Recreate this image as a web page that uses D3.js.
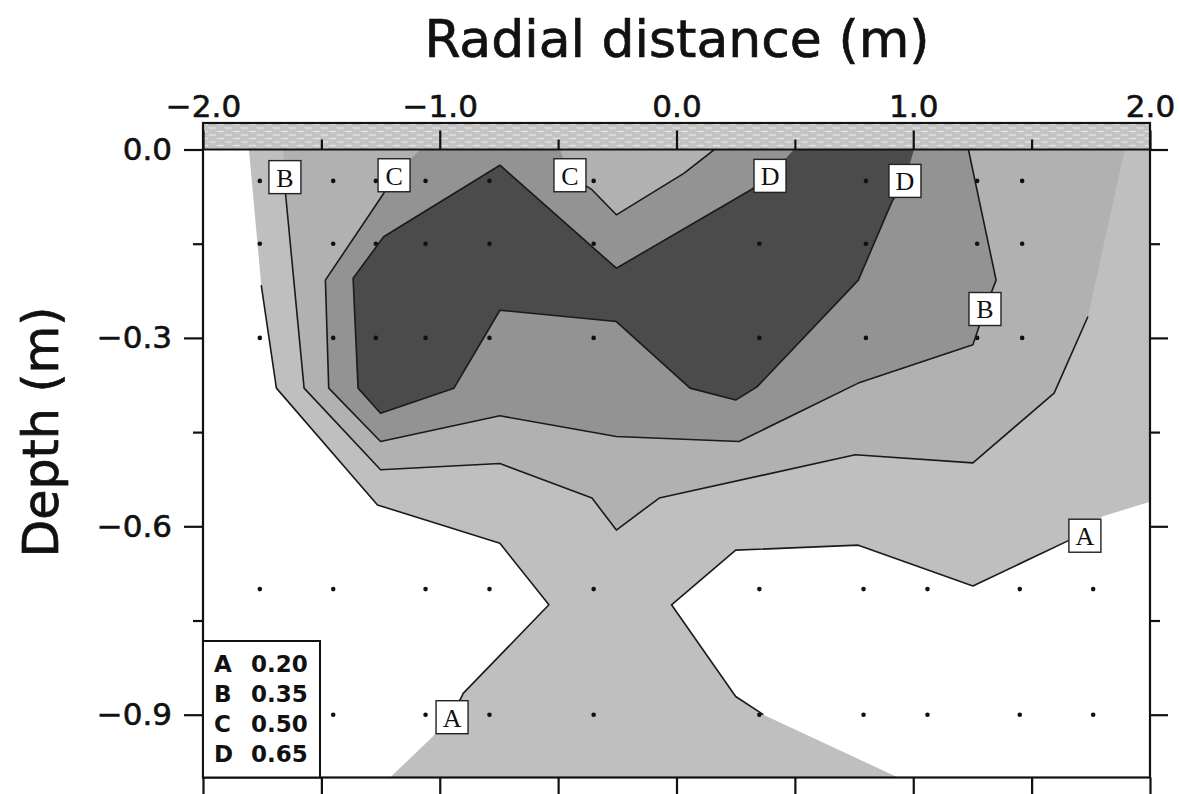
<!DOCTYPE html>
<html>
<head>
<meta charset="utf-8">
<script src="https://cdn.jsdelivr.net/npm/d3@7"></script>
<style>
  body { margin: 0; background: #fff; }
  svg text { font-family: "DejaVu Sans", sans-serif; fill: #111; }
</style>
</head>
<body>
<div id="chart"></div>
<script>
// axis ticks
const xTicks = [-2.0, -1.0, 0.0, 1.0, 2.0];
const xMinorTicks = [-1.5, -0.5, 0.5, 1.5];
const yTicks = [0.0, -0.3, -0.6, -0.9];
const yMinorTicks = [-0.15, -0.45, -0.75];

// contour levels
const levelNames = ['A', 'B', 'C', 'D'];
const levelValues = [0.20, 0.35, 0.50, 0.65];

// measurement points [radial distance, depth]
const upperRowX = [-1.76, -1.45, -1.27, -1.06, -0.79, -0.35, 0.35, 0.80, 1.27, 1.46];
const upperRowDepths = [-0.05, -0.15, -0.30];
const lowerRowX = [-1.76, -1.45, -1.06, -0.79, -0.35, 0.35, 0.79, 1.06, 1.45, 1.76];
const lowerRowDepths = [-0.70, -0.90];

// shaded bands (value >= level), [radial distance, depth]
const fillA = [[-1.806, 0], [2.0, 0], [2.0, -0.561], [1.801, -0.584], [1.660, -0.622], [1.252, -0.695],
  [0.768, -0.630], [0.250, -0.638], [-0.021, -0.725], [0.250, -0.871], [0.367, -0.900], [0.936, -1.0],
  [-1.210, -1.0], [-1.030, -0.935], [-0.901, -0.866], [-0.539, -0.725], [-0.746, -0.627],
  [-1.263, -0.566], [-1.690, -0.380], [-1.754, -0.216]];
const fillB = [[-1.662, 0], [-1.651, -0.072], [-1.573, -0.380], [-1.250, -0.510], [-0.746, -0.500],
  [-0.357, -0.555], [-0.254, -0.606], [-0.073, -0.555], [0.755, -0.486], [1.252, -0.499],
  [1.595, -0.388], [1.738, -0.266], [1.893, 0]];
const fillC = [[-1.083, 0], [-1.193, -0.042], [-1.237, -0.070], [-1.483, -0.208], [-1.469, -0.380],
  [-1.250, -0.465], [-0.746, -0.424], [-0.254, -0.457], [0.264, -0.465], [0.768, -0.372],
  [1.252, -0.311], [1.303, -0.254], [1.350, -0.208], [1.233, 0], [0.160, 0], [0.031, -0.038],
  [-0.254, -0.104], [-0.357, -0.064], [-0.450, -0.042], [-0.492, 0]];
const fillD = [[0.496, 0], [0.395, -0.042], [0.315, -0.064], [-0.254, -0.189], [-0.746, -0.025],
  [-1.237, -0.139], [-1.366, -0.205], [-1.345, -0.380], [-1.250, -0.420], [-0.940, -0.380],
  [-0.746, -0.256], [-0.254, -0.274], [0.057, -0.380], [0.250, -0.399], [0.340, -0.378],
  [0.768, -0.208], [0.910, -0.083], [0.965, -0.050], [1.003, 0]];

// drawn contour lines
const lineA1 = [[-1.754, -0.216], [-1.690, -0.380], [-1.263, -0.566], [-0.746, -0.627], [-0.539, -0.725],
  [-0.901, -0.866], [-0.948, -0.904]];
const lineA2 = [[0.367, -0.900], [0.250, -0.871], [-0.021, -0.725], [0.250, -0.638], [0.768, -0.630],
  [1.252, -0.695], [1.660, -0.622], [1.725, -0.615]];
const lineB = [[-1.654, -0.044], [-1.651, -0.072], [-1.573, -0.380], [-1.250, -0.510], [-0.746, -0.500],
  [-0.357, -0.555], [-0.254, -0.606], [-0.073, -0.555], [0.755, -0.486], [1.252, -0.499],
  [1.595, -0.388], [1.738, -0.266]];
const lineC1 = [[-1.193, -0.042], [-1.237, -0.070], [-1.483, -0.208], [-1.469, -0.380], [-1.250, -0.465],
  [-0.746, -0.424], [-0.254, -0.457], [0.264, -0.465], [0.768, -0.372], [1.252, -0.311],
  [1.303, -0.254], [1.350, -0.208], [1.233, 0]];
const lineC2 = [[-0.450, -0.042], [-0.357, -0.064], [-0.254, -0.104], [0.031, -0.038], [0.160, 0]];
const lineD = [[0.395, -0.042], [0.315, -0.064], [-0.254, -0.189], [-0.746, -0.025], [-1.237, -0.139],
  [-1.366, -0.205], [-1.345, -0.380], [-1.250, -0.420], [-0.940, -0.380], [-0.746, -0.256],
  [-0.254, -0.274], [0.057, -0.380], [0.250, -0.399], [0.340, -0.378], [0.768, -0.208],
  [0.910, -0.083], [0.965, -0.050]];

// contour labels
const labelNames = ['B', 'C', 'C', 'D', 'D', 'B', 'A', 'A'];
const labelX = [-1.654, -1.193, -0.450, 0.395, 0.965, 1.303, 1.725, -0.948];
const labelY = [-0.044, -0.041, -0.041, -0.042, -0.050, -0.254, -0.615, -0.904];

const bandColors = ['#bfbfbf', '#b1b1b1', '#939393', '#4b4b4b'];

const W = 1179, H = 794;
const x = d3.scaleLinear().domain([-2, 2]).range([203, 1150]);
const y = d3.scaleLinear().domain([-1, 0]).range([777.5, 149.5]);
const groundTop = 123;

const svg = d3.select('#chart').append('svg')
  .attr('width', W)
  .attr('height', H);

const defs = svg.append('defs');
defs.append('clipPath').attr('id', 'plotClip')
  .append('rect')
    .attr('x', x(-2)).attr('y', y(0))
    .attr('width', x(2) - x(-2)).attr('height', y(-1) - y(0));

const pat = defs.append('pattern')
  .attr('id', 'ground')
  .attr('patternUnits', 'userSpaceOnUse')
  .attr('width', 16).attr('height', 7);
pat.append('rect').attr('width', 16).attr('height', 7).attr('fill', '#c4c4c4');
pat.append('line').attr('x1', 1).attr('x2', 8).attr('y1', 2).attr('y2', 2)
  .attr('stroke', '#e6e6e6').attr('stroke-width', 1.2);
pat.append('line').attr('x1', 9).attr('x2', 16).attr('y1', 5.5).attr('y2', 5.5)
  .attr('stroke', '#e6e6e6').attr('stroke-width', 1.2);

const line = d3.line().x(d => x(d[0])).y(d => y(d[1]));

const plot = svg.append('g').attr('clip-path', 'url(#plotClip)');

// shaded bands
[fillA, fillB, fillC, fillD].forEach((poly, i) => {
  plot.append('path')
    .attr('d', line(poly) + 'Z')
    .attr('fill', bandColors[i]);
});

// measurement points
const pts = [];
upperRowDepths.forEach(dp => upperRowX.forEach(v => pts.push([v, dp])));
lowerRowDepths.forEach(dp => lowerRowX.forEach(v => pts.push([v, dp])));
plot.selectAll('.pt')
  .data(pts)
  .enter()
  .append('circle')
    .attr('class', 'pt')
    .attr('cx', d => x(d[0]))
    .attr('cy', d => y(d[1]))
    .attr('r', 2.3)
    .attr('fill', '#111');

// contour lines
[lineA1, lineA2, lineB, lineC1, lineC2, lineD].forEach(l => {
  plot.append('path')
    .attr('d', line(l))
    .attr('fill', 'none')
    .attr('stroke', '#1a1a1a')
    .attr('stroke-width', 1.6)
    .attr('stroke-linejoin', 'round');
});

// contour labels
const lab = plot.selectAll('.clab')
  .data(labelNames)
  .enter()
  .append('g')
    .attr('class', 'clab')
    .attr('transform', (d, i) => `translate(${x(labelX[i])},${y(labelY[i])})`);
lab.append('rect')
  .attr('x', -16).attr('y', -16.5)
  .attr('width', 32).attr('height', 33)
  .attr('fill', '#fff')
  .attr('stroke', '#222')
  .attr('stroke-width', 1.4);
lab.append('text')
  .attr('text-anchor', 'middle')
  .attr('dy', '0.36em')
  .style('font-family', '"Liberation Serif", serif')
  .style('font-size', '26px')
  .text(d => d);

// ground surface band
svg.append('rect')
  .attr('x', x(-2)).attr('y', groundTop)
  .attr('width', x(2) - x(-2)).attr('height', y(0) - groundTop)
  .attr('fill', 'url(#ground)');

// axes
const fmt = d3.format('.1f');
function styleAxis(g) {
  g.select('.domain').remove();
  g.selectAll('.tick line').attr('stroke', '#111').attr('stroke-width', 2.2);
  g.selectAll('.tick text')
    .style('font-size', '31px')
    .attr('fill', '#111')
    .attr('stroke', '#111')
    .attr('stroke-width', 0.6);
}

svg.append('g')
  .attr('transform', `translate(${x(-2)},0)`)
  .call(d3.axisLeft(y).tickValues(yTicks).tickSize(19).tickPadding(12).tickFormat(fmt))
  .call(styleAxis);
svg.append('g')
  .attr('transform', `translate(${x(-2)},0)`)
  .call(d3.axisLeft(y).tickValues(yMinorTicks).tickSize(10).tickFormat(''))
  .call(styleAxis);
svg.append('g')
  .attr('transform', `translate(${x(2)},0)`)
  .call(d3.axisRight(y).tickValues(yTicks).tickSize(18).tickFormat(''))
  .call(styleAxis);
svg.append('g')
  .attr('transform', `translate(${x(2)},0)`)
  .call(d3.axisRight(y).tickValues(yMinorTicks).tickSize(10).tickFormat(''))
  .call(styleAxis);

svg.append('g')
  .attr('transform', `translate(0,${y(0)})`)
  .call(d3.axisTop(x).tickValues(xTicks).tickSize(19).tickPadding(14).tickFormat(fmt))
  .call(styleAxis);
svg.append('g')
  .attr('transform', `translate(0,${y(0)})`)
  .call(d3.axisTop(x).tickValues(xMinorTicks).tickSize(10).tickFormat(''))
  .call(styleAxis);
svg.append('g')
  .attr('transform', `translate(0,${y(-1)})`)
  .call(d3.axisBottom(x).tickValues(xTicks.concat(xMinorTicks)).tickSize(18).tickFormat(''))
  .call(styleAxis);

// frame and surface line
svg.append('rect')
  .attr('x', x(-2)).attr('y', groundTop)
  .attr('width', x(2) - x(-2)).attr('height', y(-1) - groundTop)
  .attr('fill', 'none')
  .attr('stroke', '#111')
  .attr('stroke-width', 2.2);
svg.append('line')
  .attr('x1', x(-2)).attr('x2', x(2))
  .attr('y1', y(0)).attr('y2', y(0))
  .attr('stroke', '#111')
  .attr('stroke-width', 2.2);

// legend
const leg = svg.append('g').attr('transform', `translate(${x(-2)},641)`);
leg.append('rect')
  .attr('width', 117).attr('height', y(-1) - 641)
  .attr('fill', '#fff')
  .attr('stroke', '#111')
  .attr('stroke-width', 2);
levelNames.forEach((n, i) => {
  const row = leg.append('text')
    .attr('y', 31 + i * 30)
    .style('font-size', '23px')
    .style('font-weight', 'bold');
  row.append('tspan').attr('x', 11).text(n);
  row.append('tspan').attr('x', 48).text(d3.format('.2f')(levelValues[i]));
});

// titles
svg.append('text')
  .attr('x', 677)
  .attr('y', 57)
  .attr('text-anchor', 'middle')
  .attr('stroke', '#111')
  .attr('stroke-width', 0.7)
  .style('font-size', '52px')
  .text('Radial distance (m)');
svg.append('text')
  .attr('transform', 'translate(58,432) rotate(-90)')
  .attr('text-anchor', 'middle')
  .attr('stroke', '#111')
  .attr('stroke-width', 0.7)
  .style('font-size', '49px')
  .text('Depth (m)');
</script>
</body>
</html>
